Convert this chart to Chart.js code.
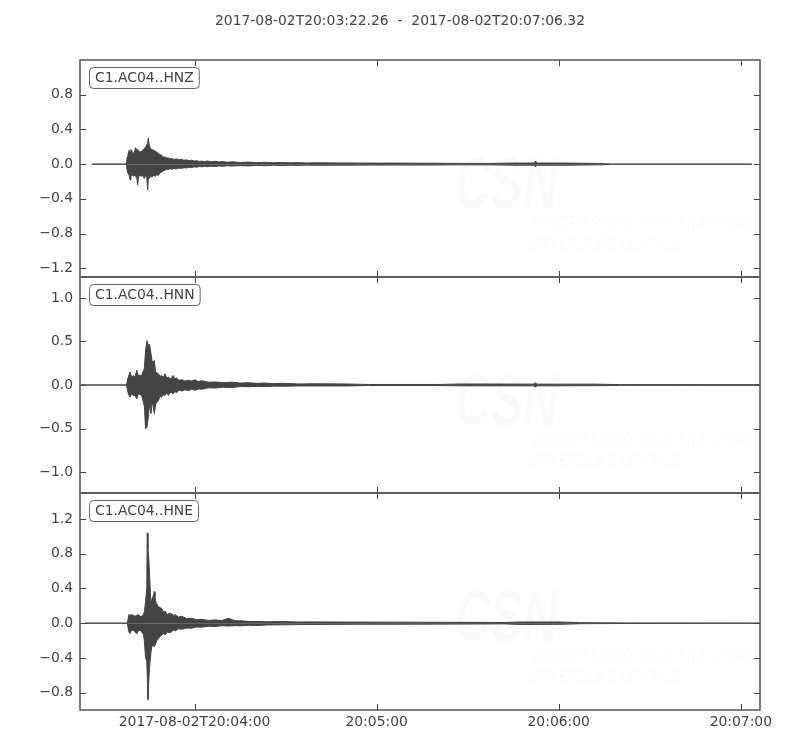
<!DOCTYPE html>
<html>
<head>
<meta charset="utf-8">
<script src="https://cdn.jsdelivr.net/npm/chart.js@4.4.0/dist/chart.umd.min.js"></script>
<style>
  body { margin: 0; background: #fff; }
  #wrap { position: relative; width: 800px; height: 750px; }
  #wrap canvas { position: absolute; left: 0; top: 0; }
</style>
</head>
<body>
<div id="wrap">
  <canvas id="hnz" width="800" height="750"></canvas>
  <canvas id="hnn" width="800" height="750"></canvas>
  <canvas id="hne" width="800" height="750"></canvas>
</div>
<script>
// time axis in seconds after 2017-08-02T20:03:22.26
const titleText = "2017-08-02T20:03:22.26  -  2017-08-02T20:07:06.32";
const spanSec = 224.06;
const xTickSec = [37.74, 97.74, 157.74, 217.74];
const xTickLabels = ["2017-08-02T20:04:00", "20:05:00", "20:06:00", "20:07:00"];

// HNZ - envelope (max / min per time step)
const hnzTime  = [3.95, 15.3, 15.5, 15.8, 16.2, 16.5, 16.8, 17.1, 17.6, 18.0, 18.3, 18.7, 19.0, 19.3, 19.8, 20.3, 20.6, 21.2, 21.6, 22.0, 22.3, 22.5, 22.8, 23.2, 23.7, 24.2, 24.8, 25.3, 25.8, 26.4, 27.0, 27.5, 28.0, 28.5, 29.0, 29.6, 30.2, 31.0, 31.8, 32.6, 33.5, 34.2, 35.0, 35.9, 36.8, 37.6, 38.5, 39.3, 40.1, 41.0, 42.0, 43.2, 44.5, 45.8, 47.0, 48.5, 50.0, 52.8, 55.5, 58.2, 61.0, 63.7, 66.4, 69.2, 72.0, 74.7, 77.4, 85, 95, 105, 115, 125, 135, 143, 149.6, 150.1, 150.6, 160, 166, 172, 175, 221.4];
const hnzUpper = [0, 0, 0.08, 0.11, 0.16, 0.14, 0.17, 0.15, 0.12, 0.15, 0.19, 0.16, 0.17, 0.15, 0.14, 0.15, 0.16, 0.18, 0.20, 0.22, 0.24, 0.30, 0.22, 0.18, 0.17, 0.16, 0.15, 0.14, 0.12, 0.11, 0.10, 0.08, 0.085, 0.07, 0.075, 0.062, 0.065, 0.055, 0.06, 0.05, 0.058, 0.045, 0.05, 0.04, 0.046, 0.036, 0.04, 0.032, 0.035, 0.03, 0.037, 0.027, 0.033, 0.025, 0.03, 0.022, 0.027, 0.02, 0.024, 0.018, 0.022, 0.016, 0.02, 0.015, 0.018, 0.013, 0.016, 0.014, 0.012, 0.012, 0.011, 0.009, 0.008, 0.013, 0.013, 0.035, 0.013, 0.013, 0.01, 0.008, 0, 0];
const hnzLower = [0, 0, -0.07, -0.10, -0.13, -0.18, -0.14, -0.12, -0.14, -0.13, -0.14, -0.15, -0.24, -0.14, -0.13, -0.14, -0.13, -0.165, -0.13, -0.15, -0.30, -0.18, -0.16, -0.14, -0.15, -0.13, -0.14, -0.12, -0.13, -0.10, -0.09, -0.075, -0.07, -0.06, -0.065, -0.052, -0.06, -0.048, -0.055, -0.044, -0.05, -0.04, -0.045, -0.035, -0.04, -0.031, -0.035, -0.027, -0.03, -0.025, -0.03, -0.023, -0.028, -0.02, -0.025, -0.018, -0.022, -0.017, -0.02, -0.015, -0.018, -0.013, -0.016, -0.012, -0.015, -0.011, -0.013, -0.012, -0.011, -0.010, -0.010, -0.008, -0.008, -0.012, -0.012, -0.03, -0.012, -0.012, -0.01, -0.008, 0, 0];
const hnzYTicks = [0.8, 0.4, 0.0, -0.4, -0.8, -1.2];
const hnzRange = [-1.3, 1.2];

// HNN
const hnnTime  = [0.3, 15.3, 15.9, 16.5, 17.0, 17.6, 18.1, 18.7, 19.2, 20.3, 21.2, 21.6, 22.1, 22.5, 22.9, 23.4, 23.8, 24.5, 24.9, 25.8, 26.4, 26.9, 27.5, 28.0, 28.6, 29.1, 29.9, 30.7, 31.3, 31.8, 32.6, 33.5, 34.6, 35.7, 36.8, 37.9, 39.0, 40.1, 42.3, 44.5, 47.2, 50.0, 52.8, 55.5, 58.2, 61.0, 63.7, 66.4, 72.0, 77.4, 88, 95, 118, 125, 140, 149.4, 150.0, 150.6, 170, 178, 224.06];
const hnnUpper = [0, 0, 0.09, 0.15, 0.09, 0.11, 0.09, 0.17, 0.11, 0.11, 0.19, 0.40, 0.51, 0.45, 0.47, 0.36, 0.26, 0.28, 0.15, 0.13, 0.10, 0.11, 0.09, 0.13, 0.08, 0.09, 0.07, 0.11, 0.07, 0.08, 0.055, 0.06, 0.045, 0.055, 0.045, 0.06, 0.04, 0.05, 0.032, 0.035, 0.028, 0.033, 0.022, 0.026, 0.019, 0.022, 0.016, 0.02, 0.012, 0.014, 0.012, 0.006, 0.006, 0.012, 0.011, 0.01, 0.024, 0.01, 0.01, 0.004, 0.003];
const hnnLower = [0, 0, -0.10, -0.14, -0.10, -0.12, -0.12, -0.16, -0.10, -0.12, -0.24, -0.50, -0.48, -0.37, -0.22, -0.33, -0.18, -0.33, -0.22, -0.18, -0.13, -0.14, -0.11, -0.12, -0.09, -0.12, -0.08, -0.10, -0.075, -0.09, -0.06, -0.07, -0.055, -0.065, -0.05, -0.06, -0.045, -0.05, -0.032, -0.035, -0.026, -0.03, -0.018, -0.02, -0.016, -0.018, -0.013, -0.015, -0.011, -0.011, -0.011, -0.006, -0.006, -0.01, -0.01, -0.01, -0.022, -0.01, -0.008, -0.004, -0.003];
const hnnYTicks = [1.0, 0.5, 0.0, -0.5, -1.0];
const hnnRange = [-1.24, 1.24];

// HNE
const hneTime  = [1.6, 15.6, 16.1, 16.5, 17.0, 17.6, 18.1, 18.7, 19.2, 19.8, 20.3, 20.9, 21.2, 21.6, 22.0, 22.15, 22.4, 22.6, 22.9, 23.2, 23.4, 23.8, 24.0, 24.5, 24.7, 25.1, 25.4, 25.8, 26.4, 26.9, 27.5, 28.0, 28.8, 29.6, 30.2, 30.8, 31.3, 32.4, 33.5, 35.1, 36.8, 38.4, 40.1, 42.3, 44.5, 46.7, 48.9, 51.1, 53.3, 55.5, 57.7, 62.0, 66.4, 72.0, 77.4, 90, 105, 125, 140, 145, 158, 165, 180, 224.06];
const hneUpper = [0, 0, 0.10, 0.09, 0.10, 0.09, 0.08, 0.09, 0.10, 0.08, 0.08, 0.10, 0.13, 0.25, 0.40, 1.04, 0.85, 0.79, 0.58, 0.35, 0.21, 0.29, 0.30, 0.365, 0.30, 0.23, 0.22, 0.19, 0.18, 0.17, 0.13, 0.14, 0.10, 0.115, 0.11, 0.085, 0.10, 0.07, 0.08, 0.055, 0.057, 0.04, 0.045, 0.032, 0.038, 0.03, 0.057, 0.028, 0.027, 0.02, 0.019, 0.016, 0.019, 0.014, 0.015, 0.013, 0.012, 0.01, 0.008, 0.014, 0.014, 0.006, 0.003, 0];
const hneLower = [0, 0, -0.10, -0.12, -0.08, -0.08, -0.10, -0.12, -0.09, -0.08, -0.10, -0.13, -0.20, -0.40, -0.44, -0.60, -0.88, -0.70, -0.52, -0.40, -0.33, -0.25, -0.25, -0.27, -0.27, -0.22, -0.19, -0.18, -0.15, -0.14, -0.115, -0.135, -0.10, -0.11, -0.097, -0.08, -0.09, -0.065, -0.07, -0.055, -0.058, -0.043, -0.046, -0.035, -0.038, -0.03, -0.033, -0.028, -0.03, -0.024, -0.027, -0.02, -0.019, -0.016, -0.015, -0.012, -0.012, -0.01, -0.008, -0.014, -0.013, -0.006, -0.003, 0];
const hneYTicks = [1.2, 0.8, 0.4, 0.0, -0.4, -0.8];
const hneRange = [-1.0, 1.5];

const ink = "#444";
Chart.defaults.font.family = "'DejaVu Sans', sans-serif";
Chart.defaults.font.size = 13.9;
Chart.defaults.color = ink;

function fmtY(v) {
  return v.toFixed(1).replace("-", "\u2212");
}

// frame, inward ticks, channel label, faint watermark
const panelDecor = {
  id: "panelDecor",
  beforeDatasetsDraw(chart, args, opts) {
    const ctx = chart.ctx, a = chart.chartArea;
    ctx.save();
    ctx.fillStyle = "rgba(0,0,0,0.018)";
    ctx.save();
    ctx.translate(a.left + 375, a.top + 148);
    ctx.scale(0.68, 1);
    ctx.font = "italic bold 72px 'Liberation Sans', sans-serif";
    ctx.fillText("CSN", 0, 0);
    ctx.restore();
    ctx.save();
    ctx.translate(a.left + 452, a.top + 170);
    ctx.scale(0.62, 1);
    ctx.font = "italic 21px 'Liberation Sans', sans-serif";
    ctx.fillText("CENTRO SISMOLÓGICO NACIONAL", 0, 0);
    ctx.fillText("UNIVERSIDAD DE CHILE", -7, 20);
    ctx.restore();
    ctx.restore();
  },
  afterDraw(chart, args, opts) {
    const ctx = chart.ctx, a = chart.chartArea;
    const xs = chart.scales.x, ys = chart.scales.y;
    ctx.save();
    ctx.strokeStyle = ink;
    ctx.lineWidth = 1;
    ctx.beginPath();
    xTickSec.forEach(v => {
      const px = Math.round(xs.getPixelForValue(v)) + 0.5;
      ctx.moveTo(px, a.top); ctx.lineTo(px, a.top + 6);
      ctx.moveTo(px, a.bottom); ctx.lineTo(px, a.bottom - 6);
    });
    opts.yTicks.forEach(v => {
      const py = Math.round(ys.getPixelForValue(v)) + 0.5;
      ctx.moveTo(a.left, py); ctx.lineTo(a.left + 6, py);
      ctx.moveTo(a.right, py); ctx.lineTo(a.right - 6, py);
    });
    ctx.stroke();

    ctx.strokeStyle = "#555";
    ctx.lineWidth = 1.5;
    ctx.strokeRect(a.left, a.top, a.right - a.left, a.bottom - a.top);

    // channel label box
    ctx.font = "13.9px 'DejaVu Sans', sans-serif";
    const tw = ctx.measureText(opts.label).width;
    const bx = a.left + 9.5, by = a.top + 7.5;
    ctx.fillStyle = "#fff";
    ctx.strokeStyle = "#666";
    ctx.lineWidth = 1;
    ctx.beginPath();
    ctx.roundRect(bx, by, tw + 11, 21, 4);
    ctx.fill();
    ctx.stroke();
    ctx.fillStyle = ink;
    ctx.textBaseline = "middle";
    ctx.fillText(opts.label, bx + 5.5, by + 11);

    if (opts.title) {
      ctx.textAlign = "center";
      ctx.fillText(opts.title, chart.width / 2, a.top - 39);
    }
    ctx.restore();
  }
};

function makePanel(id, label, time, upper, lower, yTicks, yRange, padTop, padBottom, isBottom, title) {
  const trace = (vals) => time.map((t, i) => ({ x: t, y: vals[i] }));
  const style = {
    borderColor: ink,
    backgroundColor: ink,
    borderWidth: 1,
    pointRadius: 0,
    tension: 0,
    fill: "origin"
  };
  return new Chart(document.getElementById(id), {
    type: "line",
    data: {
      datasets: [
        Object.assign({ label: label, data: trace(upper) }, style),
        Object.assign({ label: label, data: trace(lower) }, style)
      ]
    },
    options: {
      responsive: false,
      animation: false,
      events: [],
      layout: { padding: { left: 0, right: 40, top: padTop, bottom: padBottom } },
      plugins: {
        legend: { display: false },
        tooltip: { enabled: false },
        panelDecor: { label: label, yTicks: yTicks, title: title }
      },
      scales: {
        x: {
          type: "linear",
          min: 0,
          max: spanSec,
          border: { display: false },
          grid: { display: false, drawTicks: false },
          afterBuildTicks: (s) => { s.ticks = xTickSec.map(v => ({ value: v })); },
          afterFit: (s) => { s.height = isBottom ? 40 : 0; },
          ticks: {
            display: isBottom,
            autoSkip: false,
            maxRotation: 0,
            padding: 4,
            callback: (v, i) => xTickLabels[i]
          }
        },
        y: {
          min: yRange[0],
          max: yRange[1],
          border: { display: false },
          grid: { display: false, drawTicks: false },
          afterBuildTicks: (s) => { s.ticks = yTicks.map(v => ({ value: v })); },
          afterFit: (s) => { s.width = 80; },
          ticks: {
            padding: 7,
            autoSkip: false,
            callback: (v) => fmtY(v)
          }
        }
      }
    },
    plugins: [panelDecor]
  });
}

makePanel("hnz", "C1.AC04..HNZ", hnzTime, hnzUpper, hnzLower, hnzYTicks, hnzRange, 60, 473, false, titleText);
makePanel("hnn", "C1.AC04..HNN", hnnTime, hnnUpper, hnnLower, hnnYTicks, hnnRange, 277, 257, false, null);
makePanel("hne", "C1.AC04..HNE", hneTime, hneUpper, hneLower, hneYTicks, hneRange, 493, 0, true, null);
</script>
</body>
</html>
